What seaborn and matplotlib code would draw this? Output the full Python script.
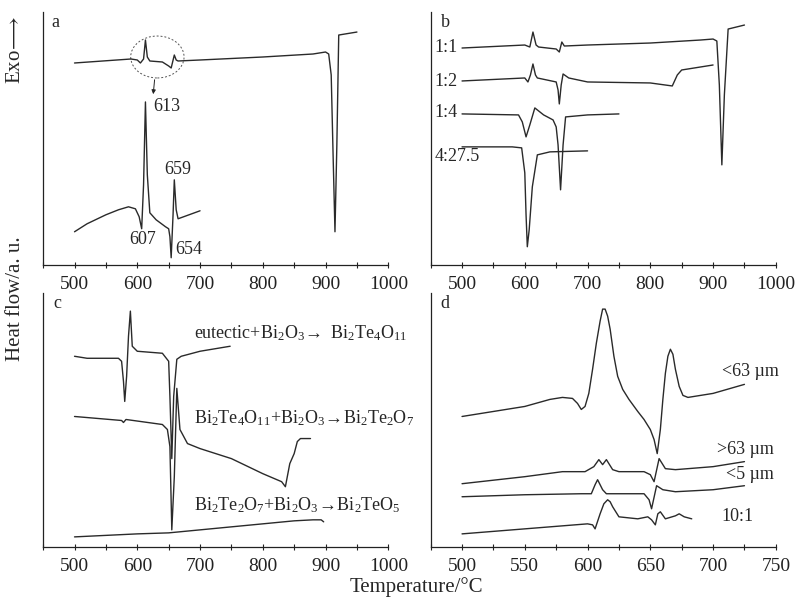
import matplotlib
matplotlib.use('Agg')
import matplotlib.pyplot as plt
from matplotlib.patches import Ellipse
from matplotlib.ticker import MultipleLocator
import seaborn as sns

# ---- panel a: DTA of the 1:1 mixture, with the enlarged 600-700 region below
a_top_T = [500, 590, 600, 605, 610, 613, 616, 620, 640, 650, 654, 659, 662, 665, 700, 800, 880, 900, 905, 909, 912, 915, 918, 921, 950]
a_top_y = [202, 206, 205, 202, 206, 225, 208, 204, 203, 199, 197, 210, 205, 204, 205, 208, 211, 213, 211, 190, 110, 33, 120, 230, 233]
a_zoom_T = [500, 520, 550, 570, 586, 597, 603, 607, 610, 613, 616, 620, 630, 645, 650, 652, 654, 657, 659, 662, 665, 700]
a_zoom_y = [33, 41, 50, 55, 58, 56, 48, 36, 80, 163, 90, 52, 45, 38, 36, 28, 7, 50, 85, 55, 46, 54]

# ---- panel b: different ratios
b_11_T = [500, 600, 608, 613, 618, 622, 650, 655, 659, 663, 700, 800, 880, 900, 906, 910, 914, 918, 924, 950]
b_11_y = [217, 220, 218, 233, 220, 218, 216, 213, 223, 219, 220, 222, 225, 226, 224, 180, 100, 170, 236, 240]
b_12_T = [500, 600, 605, 609, 613, 617, 620, 650, 653, 655, 658, 661, 670, 700, 800, 835, 843, 850, 900]
b_12_y = [184, 187, 183, 190, 201, 190, 187, 183, 175, 161, 180, 191, 187, 183, 182, 179, 190, 195, 200]
b_14_T = [500, 590, 596, 602, 608, 616, 630, 645, 650, 653, 657, 661, 665, 700, 750]
b_14_y = [151, 150, 143, 128, 140, 157, 150, 145, 138, 120, 75, 120, 148, 150, 151]
b_427_T = [500, 580, 595, 600, 602, 604, 607, 612, 620, 640, 700]
b_427_y = [118, 118, 117, 92, 50, 18, 35, 78, 110, 113, 114]
b_labels = ['1:1', '1:2', '1:4', '4:27.5']
b_label_y = [218, 183, 152, 108]

# ---- panel c: reaction steps
c_1_T = [500, 520, 570, 575, 578, 580, 583, 586, 589, 592, 600, 640, 650, 652, 655, 658, 663, 670, 700, 748]
c_1_y = [190, 188, 188, 185, 165, 145, 170, 210, 235, 200, 195, 193, 185, 150, 88, 150, 187, 190, 195, 200]
c_2_T = [500, 575, 578, 582, 640, 648, 652, 655, 659, 663, 668, 680, 700, 750, 800, 830, 836, 843, 850, 855, 860, 876]
c_2_y = [130, 126, 124, 127, 122, 117, 100, 17, 70, 158, 117, 103, 98, 88, 73, 65, 60, 83, 93, 105, 108, 108]
c_3_T = [500, 600, 650, 700, 750, 800, 850, 880, 893, 897]
c_3_y = [10, 13, 14, 17, 20, 23, 26, 27, 27, 25]
c_labels = [r'eutectic+Bi$_2$O$_3$$\!\rightarrow$ Bi$_2$Te$_4$O$_{11}$',
            r'Bi$_2$Te$_4$O$_{11}$+Bi$_2$O$_3$$\!\rightarrow\!$Bi$_2$Te$_2$O$_7$',
            r'Bi$_2$Te$_2$O$_7$+Bi$_2$O$_3$$\!\rightarrow\!$Bi$_2$TeO$_5$']
c_label_y = [213, 128, 42]

# ---- panel d: particle size
d_1_T = [500, 550, 570, 580, 588, 592, 595, 598, 601, 604, 607, 610, 612, 614, 616, 618, 621, 624, 628, 633, 640,
         645, 650, 653, 655.5, 658, 660, 662, 664, 666, 668, 670, 673, 676, 680, 690, 700, 725]
d_1_y = [130, 140, 147, 149, 148, 143, 137, 140, 153, 177, 203, 225, 237, 237, 230, 217, 190, 170, 157, 147, 135,
         127, 117, 107, 93, 117, 147, 173, 190, 197, 192, 177, 160, 151, 149, 151, 153, 162]
d_2_T = [500, 550, 580, 598, 605, 609, 612, 615, 620, 625, 645, 650, 653, 657, 662, 670, 700, 725]
d_2_y = [63, 70, 75, 75, 80, 87, 82, 87, 77, 75, 75, 72, 65, 88, 78, 77, 80, 85]
d_3_T = [500, 550, 595, 603, 606, 608, 612, 615, 645, 649, 651, 655, 660, 670, 700, 725]
d_3_y = [50, 52, 53, 53, 62, 67, 57, 53, 53, 47, 38, 61, 57, 55, 57, 61]
d_4_T = [500, 550, 600, 604, 606, 610, 613, 616, 618, 620, 625, 640, 648, 651, 654, 656, 658, 662, 670, 673, 677, 683]
d_4_y = [13, 18, 23, 22, 18, 33, 43, 47, 45, 40, 30, 28, 30, 27, 22, 33, 35, 28, 31, 33, 30, 28]
d_labels = ['<63 µm', '>63 µm', '<5 µm', '10:1']
d_label_T = [707, 703, 710, 707]
d_label_y = [175, 97, 72, 30]

sns.set_style('ticks')
plt.rcParams['font.family'] = ['Liberation Serif', 'DejaVu Serif']
plt.rcParams['mathtext.fontset'] = 'custom'
plt.rcParams['mathtext.rm'] = 'Liberation Serif'
plt.rcParams['mathtext.default'] = 'regular'

fig = plt.figure(figsize=(7.99, 6.03), dpi=100)
ax_a = fig.add_axes([0.054, 0.561, 0.432, 0.419])
ax_b = fig.add_axes([0.539, 0.561, 0.432, 0.419])
ax_c = fig.add_axes([0.054, 0.093, 0.432, 0.421])
ax_d = fig.add_axes([0.539, 0.093, 0.432, 0.421])


def draw(ax, T, y):
    sns.lineplot(x=T, y=y, ax=ax, color='#2a2a2a', lw=1.0, sort=False, estimator=None)


def style(ax, xlim, major, letter, letter_x):
    ax.set_xlim(*xlim)
    ax.set_ylim(0, 253)
    ax.set_yticks([])
    ax.xaxis.set_major_locator(MultipleLocator(major))
    ax.xaxis.set_minor_locator(MultipleLocator(major / 2))
    ax.tick_params(axis='x', which='both', direction='inout', length=4, width=0.8,
                   labelsize=14, pad=6, colors='#222222')
    for s in ['top', 'right']:
        ax.spines[s].set_visible(False)
    for s in ['left', 'bottom']:
        ax.spines[s].set_color('#222222')
        ax.spines[s].set_linewidth(0.9)
    ax.set_xlabel('')
    ax.set_ylabel('')
    ax.text(letter_x, 243, letter, fontsize=13, ha='left', va='center')


# panel a
draw(ax_a, a_top_T, a_top_y)
draw(ax_a, a_zoom_T, a_zoom_y)
style(ax_a, (450, 1000), 100, 'a', 463)
ax_a.add_patch(Ellipse((632, 208), 85, 42, fill=False, ls=(0, (2, 2)), lw=0.7, color='#555555'))
ax_a.annotate('', xy=(625, 168), xytext=(628, 188),
              arrowprops=dict(arrowstyle='-|>', lw=0.7, color='#222222', mutation_scale=6))
ax_a.text(625, 158, '613', fontsize=13, ha='left', va='center')
ax_a.text(664, 95, '659', fontsize=13, ha='center', va='center')
ax_a.text(608, 25, '607', fontsize=13, ha='center', va='center')
ax_a.text(661, 15, '654', fontsize=13, ha='left', va='center')

# panel b
for T, y in [(b_11_T, b_11_y), (b_12_T, b_12_y), (b_14_T, b_14_y), (b_427_T, b_427_y)]:
    draw(ax_b, T, y)
style(ax_b, (450, 1000), 100, 'b', 466)
for lab, yy in zip(b_labels, b_label_y):
    ax_b.text(456, yy, lab, fontsize=13, ha='left', va='center')

# panel c
for T, y in [(c_1_T, c_1_y), (c_2_T, c_2_y), (c_3_T, c_3_y)]:
    draw(ax_c, T, y)
style(ax_c, (450, 1000), 100, 'c', 467)
for lab, yy in zip(c_labels, c_label_y):
    ax_c.text(690, yy, lab, fontsize=13, ha='left', va='center', clip_on=False)

# panel d
for T, y in [(d_1_T, d_1_y), (d_2_T, d_2_y), (d_3_T, d_3_y), (d_4_T, d_4_y)]:
    draw(ax_d, T, y)
style(ax_d, (475, 750), 50, 'd', 483)
for lab, tt, yy in zip(d_labels, d_label_T, d_label_y):
    ax_d.text(tt, yy, lab, fontsize=13, ha='left', va='center', clip_on=False)

fig.text(0.019, 0.917, r'Exo$\!\longrightarrow$', rotation=90, fontsize=15, ha='center', va='center')
fig.text(0.019, 0.505, 'Heat flow/a. u.', rotation=90, fontsize=15, ha='center', va='center')
fig.text(0.521, 0.027, 'Temperature/°C', fontsize=15, ha='center', va='center')

fig.savefig('out.png', dpi=100)
